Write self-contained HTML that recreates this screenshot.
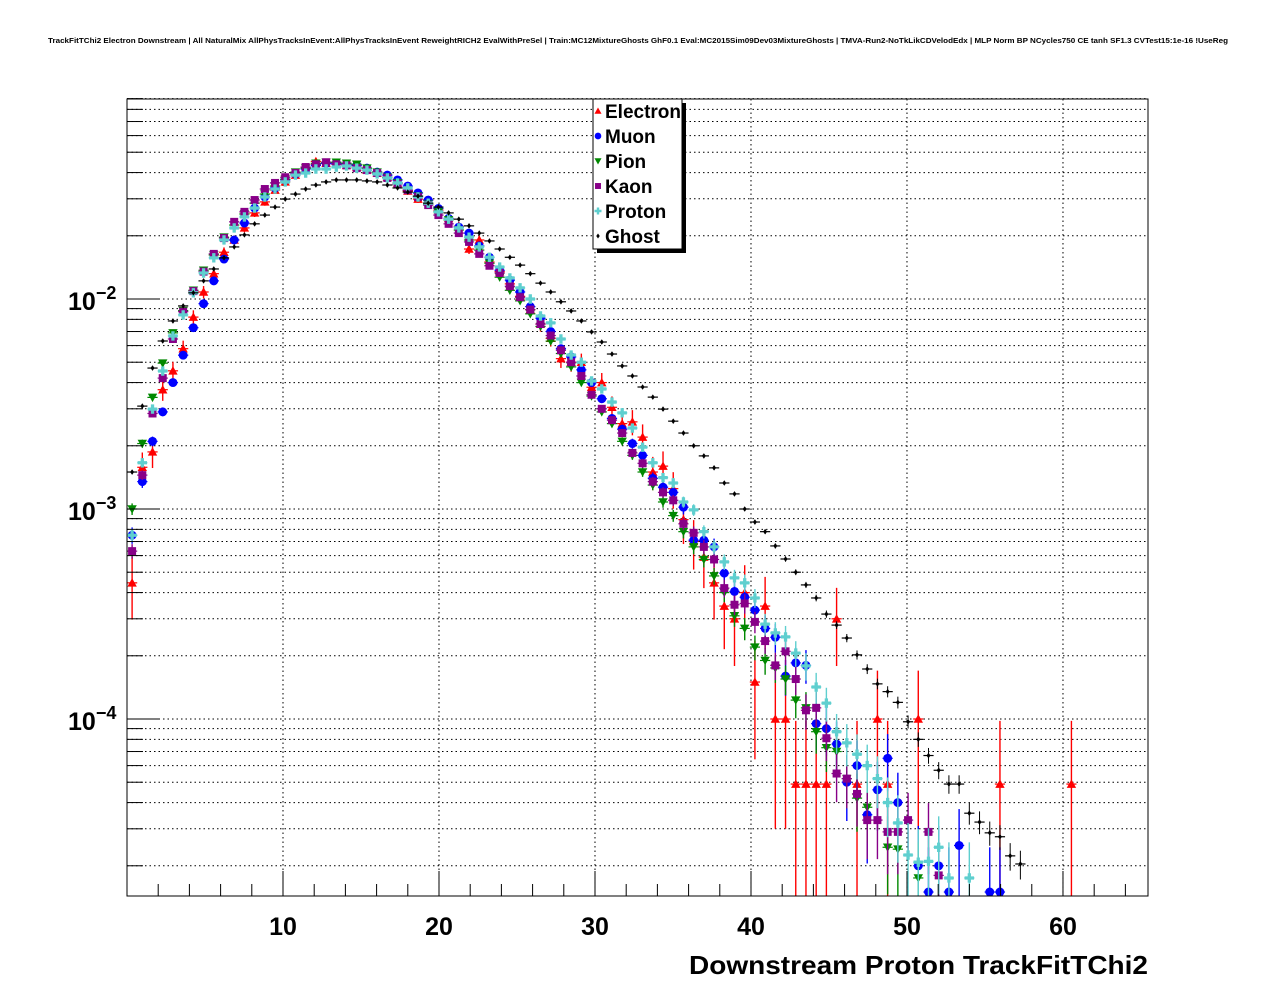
<!DOCTYPE html>
<html><head><meta charset="utf-8"><style>
html,body{margin:0;padding:0;background:#fff;}
svg{display:block;font-family:"Liberation Sans",Arial,sans-serif;}
</style></head>
<body>
<svg id="chart" width="1276" height="996" viewBox="0 0 1276 996" xmlns="http://www.w3.org/2000/svg">
<rect x="0" y="0" width="1276" height="996" fill="#fff"/>
<text x="48" y="43" font-size="7.6" font-weight="bold" textLength="1180" lengthAdjust="spacingAndGlyphs">TrackFitTChi2 Electron Downstream | All NaturalMix AllPhysTracksInEvent:AllPhysTracksInEvent ReweightRICH2 EvalWithPreSel | Train:MC12MixtureGhosts GhF0.1 Eval:MC2015Sim09Dev03MixtureGhosts | TMVA-Run2-NoTkLikCDVelodEdx | MLP Norm BP NCycles750 CE tanh SF1.3 CVTest15:1e-16 !UseReg</text>
<g id="grid"></g>
<g id="marks"></g>
<g id="axes"></g>
<g id="legend"></g>
<text x="1148" y="974" text-anchor="end" font-size="26" font-weight="bold" textLength="459" lengthAdjust="spacingAndGlyphs">Downstream Proton TrackFitTChi2</text>
</svg>
<script>
// ---- data (bin i centre = (i+0.5)*binWidth) ----
const binWidth = 0.6545;
const xTicks = [10, 20, 30, 40, 50, 60];
const yDecades = [-2, -3, -4];
const seriesNames = ["Electron", "Muon", "Pion", "Kaon", "Proton", "Ghost"];
const electron = [4.45e-4,1.58e-3,1.87e-3,3.7e-3,4.55e-3,5.8e-3,8.2e-3,1.08e-2,1.32e-2,1.67e-2,1.91e-2,2.18e-2,2.57e-2,2.9e-2,3.3e-2,3.61e-2,3.89e-2,4.2e-2,4.52e-2,4.43e-2,4.43e-2,4.33e-2,4.25e-2,4.11e-2,3.98e-2,3.8e-2,3.57e-2,3.27e-2,2.99e-2,2.96e-2,2.65e-2,2.42e-2,2.22e-2,1.73e-2,1.91e-2,1.5e-2,1.35e-2,1.18e-2,1.03e-2,8.9e-3,7.6e-3,6.5e-3,5.2e-3,5.0e-3,5.0e-3,3.8e-3,4.0e-3,3.05e-3,2.55e-3,2.6e-3,2.2e-3,1.5e-3,1.6e-3,1.25e-3,8.9e-4,7.0e-4,5.9e-4,4.45e-4,3.45e-4,3.0e-4,4.0e-4,1.5e-4,3.45e-4,1e-4,1e-4,4.9e-5,4.9e-5,4.9e-5,4.9e-5,3.0e-4,0,4.9e-5,0,1e-4,4.9e-5,0,0,1e-4,0,0,0,0,0,0,0,4.9e-5,0,0,0,0,0,0,4.9e-5];
const muon = [7.5e-4,1.35e-3,2.1e-3,2.9e-3,4.0e-3,5.4e-3,7.3e-3,9.5e-3,1.22e-2,1.55e-2,1.91e-2,2.3e-2,2.71e-2,3.06e-2,3.38e-2,3.69e-2,3.94e-2,4.16e-2,4.33e-2,4.43e-2,4.43e-2,4.38e-2,4.33e-2,4.2e-2,4.02e-2,3.89e-2,3.69e-2,3.45e-2,3.2e-2,2.96e-2,2.7e-2,2.42e-2,2.2e-2,2.06e-2,1.79e-2,1.58e-2,1.37e-2,1.23e-2,1.08e-2,9.2e-3,8.1e-3,7.0e-3,5.8e-3,5.3e-3,4.6e-3,4.0e-3,3.35e-3,2.7e-3,2.4e-3,2.05e-3,1.8e-3,1.4e-3,1.27e-3,1.2e-3,1.02e-3,7.1e-4,7.1e-4,6.6e-4,4.95e-4,4.05e-4,3.8e-4,3.3e-4,2.7e-4,2.45e-4,1.6e-4,1.85e-4,1.8e-4,9.5e-5,9.0e-5,7.6e-5,5.0e-5,6.0e-5,3.5e-5,4.6e-5,6.5e-5,4.0e-5,0,2.0e-5,1.5e-5,2.0e-5,1.5e-5,2.5e-5,0,0,1.5e-5,1.5e-5];
const pion = [1.0e-3,2.05e-3,3.4e-3,4.95e-3,6.9e-3,8.8e-3,1.1e-2,1.37e-2,1.62e-2,1.97e-2,2.25e-2,2.54e-2,2.86e-2,3.16e-2,3.45e-2,3.72e-2,4.02e-2,4.2e-2,4.43e-2,4.48e-2,4.48e-2,4.43e-2,4.38e-2,4.2e-2,4.02e-2,3.8e-2,3.57e-2,3.3e-2,3.09e-2,2.83e-2,2.6e-2,2.38e-2,2.13e-2,1.91e-2,1.71e-2,1.48e-2,1.27e-2,1.1e-2,9.8e-3,8.5e-3,7.4e-3,6.3e-3,5.5e-3,4.75e-3,4.0e-3,3.45e-3,2.9e-3,2.55e-3,2.1e-3,1.8e-3,1.5e-3,1.3e-3,1.08e-3,9.3e-4,7.8e-4,6.6e-4,5.75e-4,4.8e-4,4.0e-4,3.1e-4,2.7e-4,2.2e-4,1.9e-4,1.75e-4,1.55e-4,1.23e-4,1.13e-4,8.7e-5,7.3e-5,7.0e-5,5.2e-5,4.2e-5,3.8e-5,0,2.45e-5,2.4e-5,0,1.75e-5];
const kaon = [6.3e-4,1.45e-3,2.85e-3,4.2e-3,6.45e-3,8.7e-3,1.09e-2,1.35e-2,1.64e-2,1.95e-2,2.33e-2,2.6e-2,2.96e-2,3.34e-2,3.57e-2,3.8e-2,3.98e-2,4.25e-2,4.38e-2,4.48e-2,4.38e-2,4.33e-2,4.2e-2,4.11e-2,3.98e-2,3.77e-2,3.53e-2,3.3e-2,3.06e-2,2.8e-2,2.51e-2,2.28e-2,2.06e-2,1.87e-2,1.64e-2,1.44e-2,1.33e-2,1.15e-2,1.02e-2,8.9e-3,7.6e-3,6.7e-3,5.7e-3,5.0e-3,4.3e-3,3.5e-3,3.0e-3,2.65e-3,2.3e-3,1.85e-3,1.65e-3,1.35e-3,1.2e-3,1.1e-3,8.5e-4,7.7e-4,6.6e-4,5.75e-4,4.2e-4,3.5e-4,3.55e-4,2.9e-4,2.35e-4,1.8e-4,2.1e-4,1.55e-4,1.1e-4,1.13e-4,8.1e-5,5.5e-5,5.2e-5,4.4e-5,3.3e-5,3.3e-5,2.9e-5,2.9e-5,3.3e-5,0,2.9e-5,1.8e-5];
const proton = [7.5e-4,1.66e-3,2.99e-3,4.54e-3,6.67e-3,8.4e-3,1.07e-2,1.33e-2,1.57e-2,1.91e-2,2.18e-2,2.46e-2,2.71e-2,3.06e-2,3.34e-2,3.61e-2,3.89e-2,3.98e-2,4.16e-2,4.16e-2,4.25e-2,4.3e-2,4.2e-2,4.11e-2,3.94e-2,3.77e-2,3.57e-2,3.38e-2,3.06e-2,2.86e-2,2.6e-2,2.4e-2,2.18e-2,1.97e-2,1.77e-2,1.58e-2,1.42e-2,1.26e-2,1.13e-2,1.0e-2,8.3e-3,7.7e-3,6.45e-3,5.41e-3,5.0e-3,4.07e-3,3.73e-3,3.23e-3,2.87e-3,2.43e-3,1.97e-3,1.66e-3,1.41e-3,1.33e-3,1.08e-3,9.9e-4,7.8e-4,6.6e-4,5.6e-4,4.7e-4,4.45e-4,3.77e-4,2.83e-4,2.57e-4,2.46e-4,2.06e-4,1.79e-4,1.42e-4,1.19e-4,8.7e-5,7.7e-5,6.8e-5,6.0e-5,5.2e-5,4.0e-5,3.2e-5,2.25e-5,2.08e-5,2.1e-5,2.45e-5,1.75e-5,0,1.75e-5];
const ghost = [1.5e-3,3.09e-3,4.69e-3,6.31e-3,7.86e-3,9.27e-3,1.07e-2,1.22e-2,1.39e-2,1.57e-2,1.77e-2,2.02e-2,2.28e-2,2.51e-2,2.74e-2,2.99e-2,3.16e-2,3.34e-2,3.49e-2,3.61e-2,3.69e-2,3.69e-2,3.69e-2,3.65e-2,3.61e-2,3.49e-2,3.38e-2,3.23e-2,3.09e-2,2.86e-2,2.74e-2,2.57e-2,2.4e-2,2.23e-2,2.06e-2,1.89e-2,1.73e-2,1.58e-2,1.45e-2,1.32e-2,1.19e-2,1.08e-2,9.7e-3,8.77e-3,7.86e-3,6.97e-3,6.24e-3,5.47e-3,4.8e-3,4.3e-3,3.81e-3,3.41e-3,2.99e-3,2.62e-3,2.3e-3,2.0e-3,1.79e-3,1.57e-3,1.33e-3,1.18e-3,1.0e-3,8.67e-4,7.8e-4,6.67e-4,5.78e-4,5.0e-4,4.35e-4,3.77e-4,3.16e-4,2.8e-4,2.43e-4,2.02e-4,1.73e-4,1.47e-4,1.35e-4,1.2e-4,9.7e-5,8.0e-5,6.7e-5,5.7e-5,4.9e-5,4.9e-5,3.56e-5,3.23e-5,2.87e-5,2.75e-5,2.23e-5,2.04e-5];
// per-event weights (used for Poisson error bars)
const eventWeights = [4.9e-5, 6e-6, 4e-6, 4e-6, 4e-6, 5e-7];

const NS = "http://www.w3.org/2000/svg";
const X0 = 127, X1 = 1148, Y0 = 99, Y1 = 896;
const xMin = 0, xMax = 65.45;
const logMax = -2 + (299 - Y0) / 210, logMin = -4 - (Y1 - 719) / 210;
function xs(v){ return X0 + (v - xMin) / (xMax - xMin) * (X1 - X0); }
function ys(v){ return Y0 + (logMax - Math.log10(v)) / (logMax - logMin) * (Y1 - Y0); }
function mk(tag, attrs, parent){ const e = document.createElementNS(NS, tag); for (const k in attrs) e.setAttribute(k, attrs[k]); parent.appendChild(e); return e; }

const grid = document.getElementById("grid");
const axes = document.getElementById("axes");
const marks = document.getElementById("marks");

for (let d = -5; d <= -1; d++) {
  for (let m = 1; m <= 9; m++) {
    const v = m * Math.pow(10, d);
    const y = ys(v);
    if (y < Y0 - 0.5 || y > Y1 + 0.5) continue;
    const gl = mk("line", {x1: X0, x2: X1, y1: y, y2: y, stroke: "#000", "stroke-width": 1, "stroke-dasharray": "1.5,3"}, grid);
    
    
    const tk = mk("line", {x1: X0, x2: X0 + (m === 1 ? 32 : 16), y1: y, y2: y, stroke: "#000", "stroke-width": 1}, axes);
    
    
  }
}
for (let v = 2; v < xMax; v += 2) {
  const x = xs(v);
  const major = (v % 10 === 0);
  if (major) {
    const gl = mk("line", {x1: x, x2: x, y1: Y0, y2: Y1, stroke: "#000", "stroke-width": 1, "stroke-dasharray": "1.5,3"}, grid);
    
    
  }
  const tk = mk("line", {x1: x, x2: x, y1: Y1, y2: Y1 - (major ? 25 : 12), stroke: "#000", "stroke-width": 1}, axes);
  
  
}
xTicks.forEach(v => {
  const t = mk("text", {x: xs(v), y: 935, "text-anchor": "middle", "font-size": 25, "font-weight": "bold"}, axes);
  t.textContent = String(v);
  
  
});
yDecades.forEach(d => {
  const y = ys(Math.pow(10, d));
  const t = mk("text", {x: 68, y: y + 11, "font-size": 25, "font-weight": "bold"}, axes);
  t.textContent = "10";
  const s = mk("tspan", {dy: -11, "font-size": 18}, t);
  s.textContent = "\u2212" + Math.abs(d);
  
  
});
const frame = mk("rect", {x: X0, y: Y0, width: X1 - X0, height: Y1 - Y0, fill: "none", stroke: "#000", "stroke-width": 1}, axes);



const colors = ["#ff0000", "#0000ff", "#008800", "#880088", "#5fcfcf", "#000000"];
const shapes = ["tri-up", "circle", "tri-down", "square", "cross", "diamond"];
function marker(g, shape, cx, cy, col, s) {
  let e;
  if (shape === "tri-up") e = mk("polygon", {points: `${cx},${cy - s} ${cx - s},${cy + s * 0.8} ${cx + s},${cy + s * 0.8}`, fill: col}, g);
  else if (shape === "tri-down") e = mk("polygon", {points: `${cx},${cy + s} ${cx - s},${cy - s * 0.8} ${cx + s},${cy - s * 0.8}`, fill: col}, g);
  else if (shape === "circle") e = mk("circle", {cx: cx, cy: cy, r: s * 0.95, fill: col}, g);
  else if (shape === "square") e = mk("rect", {x: cx - s * 0.85, y: cy - s * 0.85, width: s * 1.7, height: s * 1.7, fill: col}, g);
  else if (shape === "cross") e = mk("path", {d: `M${cx - s},${cy - s * 0.35}h${s * 0.65}v${-s * 0.65}h${s * 0.7}v${s * 0.65}h${s * 0.65}v${s * 0.7}h${-s * 0.65}v${s * 0.65}h${-s * 0.7}v${-s * 0.65}h${-s * 0.65}z`, fill: col}, g);
  else e = mk("polygon", {points: `${cx},${cy - s * 0.7} ${cx + s * 0.5},${cy} ${cx},${cy + s * 0.7} ${cx - s * 0.5},${cy}`, fill: col}, g);
  return e;
}

const allSeries = [electron, muon, pion, kaon, proton, ghost];
const minV = Math.pow(10, logMin);
allSeries.forEach((arr, si) => {
  const g = mk("g", {}, marks);
  
  
  const col = colors[si];
  arr.forEach((v, i) => {
    if (!(v > 0)) return;
    const xc = xs((i + 0.5) * binWidth);
    const err = Math.sqrt(v * eventWeights[si]);
    const yHi = ys(v + err);
    const yLo = (v - err) > minV ? ys(v - err) : Y1;
    if (ys(v) > Y1 || ys(v) < Y0) return;
    const p = mk("g", {}, g);
    
    
    mk("line", {x1: xc, x2: xc, y1: Math.max(Y0, yHi), y2: Math.min(Y1, yLo), stroke: col, "stroke-width": si === 5 ? 1 : 1.4}, p);
    const hw = xs(binWidth) - xs(0);
    mk("line", {x1: xc - hw / 2, x2: xc + hw / 2, y1: ys(v), y2: ys(v), stroke: col, "stroke-width": 1.2}, p);
    marker(p, shapes[si], xc, ys(v), col, si === 5 ? 4 : 4.7);
  });
});

const lg = document.getElementById("legend");
mk("rect", {x: 597, y: 103, width: 89, height: 150, fill: "#000"}, lg);
const box = mk("rect", {x: 593, y: 99, width: 89, height: 150, fill: "#fff", stroke: "#000", "stroke-width": 1}, lg);


seriesNames.forEach((n, k) => {
  const cy = 111 + k * 25;
  const ent = mk("g", {}, lg);
  
  
  marker(ent, shapes[k], 598, cy, colors[k], 3.5);
  const t = mk("text", {x: 605, y: cy + 7, "font-size": 19, "font-weight": "bold"}, ent);
  t.textContent = n;
});
</script>
</body></html>
